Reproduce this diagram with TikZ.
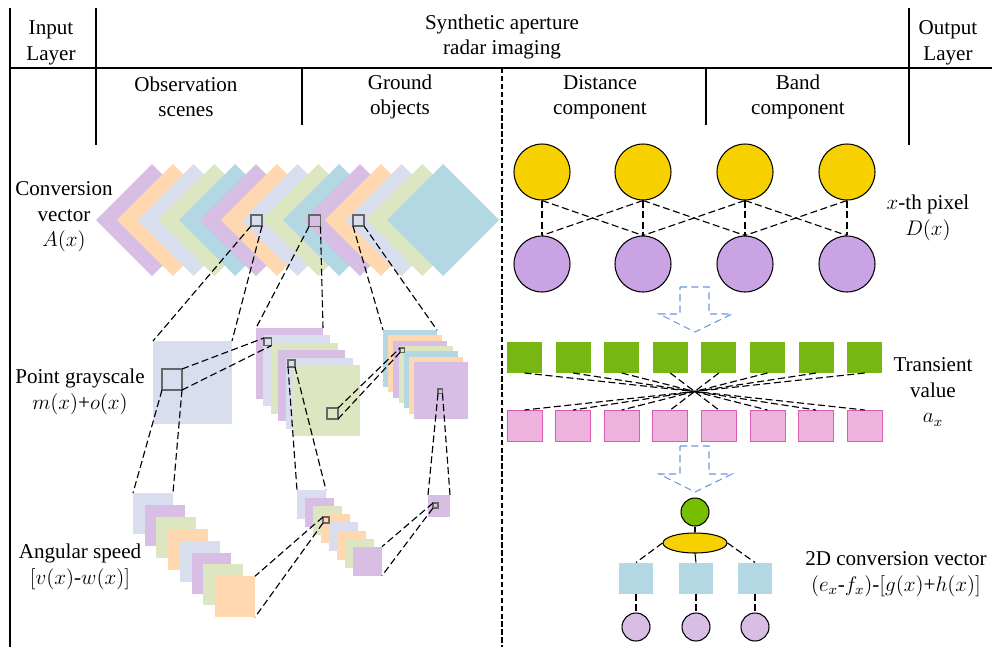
\documentclass[tikz,border=0pt]{standalone}
\usepackage{fontspec}
\setmainfont{Liberation Serif}
\usetikzlibrary{shapes.geometric}
\definecolor{cpur}{RGB}{216,190,228}
\definecolor{cora}{RGB}{255,216,176}
\definecolor{cgra}{RGB}{216,222,238}
\definecolor{cgrn}{RGB}{220,230,192}
\definecolor{cblu}{RGB}{180,215,228}
\definecolor{cyel}{RGB}{247,208,0}
\definecolor{cvio}{RGB}{201,163,227}
\definecolor{cgsq}{RGB}{120,182,20}
\definecolor{cpk}{RGB}{238,178,222}
\definecolor{cpkd}{RGB}{214,94,180}
\definecolor{cgc}{RGB}{120,190,0}
\definecolor{carr}{RGB}{110,150,220}
\tikzset{
  tile/.style={inner sep=0pt,outer sep=0pt,anchor=north west},
  lens/.style={draw=black!60,line width=0.6pt,inner sep=0pt,outer sep=0pt,anchor=north west},
  link/.style={dash pattern=on 4pt off 2pt,line width=0.65pt},
  border/.style={dash pattern=on 3pt off 1.5pt,line width=0.6pt},
  dot/.style={circle,draw,line width=0.6pt,inner sep=0pt,minimum size=1.12cm},
  cell/.style={inner sep=0pt,outer sep=0pt,minimum width=0.7cm,minimum height=0.62cm},
  hollow/.style={draw=carr,dash pattern=on 4pt off 2.5pt,line width=0.6pt},
  mtile/.style={tile,minimum width=1.34cm,minimum height=1.42cm},
  rtile/.style={tile,minimum width=1.08cm,minimum height=1.14cm},
  atile/.style={tile,minimum width=0.8cm,minimum height=0.82cm},
  btile/.style={tile,minimum size=0.58cm}
}
\begin{document}
\begin{tikzpicture}[x=0.02cm,y=-0.02cm,font=\fontsize{12}{14.5}\selectfont,line width=0.6pt]
\useasboundingbox (0,0) rectangle (992,647);

% frame
\draw (10,8) -- (10,647);
\draw (96,8) -- (96,145);
\draw (909,8) -- (909,145);
\draw (10,68) -- (992,68);
\draw (302,68) -- (302,125);
\draw (706,68) -- (706,125);
\draw[border] (502,68) -- (502,647);

\node[align=center] (inl) at (51,43) {Input\\Layer};
\node[align=center] (sar) at (502,37) {Synthetic aperture\\radar imaging};
\node[align=center] (outl) at (948,43) {Output\\Layer};
\node[align=center] (obs) at (186,97) {Observation\\scenes};
\node[align=center] (gro) at (400,97) {Ground\\objects};
\node[align=center] (dis) at (600,97) {Distance\\component};
\node[align=center] (ban) at (798,97) {Band\\component};

\node[align=center] (conv) at (64,217) {Conversion\\vector\\$A(x)$};
\node[align=center] (pgs) at (80,392) {Point grayscale\\$m(x)$+$o(x)$};
\node[align=center] (ang) at (80,567) {Angular speed\\$[v(x)$-$w(x)]$};
\node[align=center] (pix) at (928,218) {$x$-th pixel\\$D(x)$};
\node[align=center] (tra) at (933,392) {Transient\\value\\$a_x$};
\node[align=center] (vec) at (896,574) {2D conversion vector\\$(e_x$-$f_x)$-$[g(x)$+$h(x)]$};

% diamonds
\foreach \c [count=\i from 0] in {cpur,cora,cgra,cgrn,cblu,cpur,cora,cgra,cgrn,cblu,cpur,cora,cgra,cgrn,cblu}
  \fill[\c] (96+20.8*\i,220) -- ++(56,-56) -- ++(56,56) -- ++(-56,56) -- cycle;

% stacks
\node[tile,fill=cgra,minimum width=1.58cm,minimum height=1.66cm] (big) at (153,341) {};
\foreach \c [count=\k from 0] in {cpur,cgra,cgrn,cpur,cgra,cgrn}
  \node[mtile,fill=\c] (m\k) at (256+7.4*\k,328+7.4*\k) {};
\foreach \c [count=\k from 0] in {cblu,cora,cpur,cgrn,cblu,cora,cpur}
  \node[rtile,fill=\c] (r\k) at (383+5.2*\k,330+5.33*\k) {};
\foreach \c [count=\k from 0] in {cgra,cpur,cgrn,cora,cgra,cpur,cgrn,cora}
  \node[atile,fill=\c] (a\k) at (133+11.7*\k,493+11.9*\k) {};
\foreach \c [count=\k from 0] in {cgra,cpur,cgrn,cora,cgra,cora,cgrn,cpur}
  \node[btile,fill=\c] (b\k) at (297+8*\k,490+8.1*\k) {};
\node[tile,fill=cpur,minimum size=0.44cm] (c1) at (428,495) {};

% windows
\node[lens,minimum size=0.22cm] (d1) at (251,215) {};
\node[lens,minimum size=0.23cm] (d2) at (309,215) {};
\node[lens,minimum size=0.22cm] (d3) at (353,215) {};
\node[lens,minimum width=0.4cm,minimum height=0.42cm] (gi) at (162,369) {};
\node[lens,minimum size=0.15cm] (mi1) at (264,338) {};
\node[lens,minimum size=0.14cm] (mi5) at (288,360) {};
\node[lens,minimum size=0.22cm] (mi6) at (327,408) {};
\node[lens,minimum size=0.09cm] (ri3) at (400,348) {};
\node[lens,minimum size=0.09cm] (ri7) at (438,389) {};
\node[lens,minimum size=0.1cm] (ci) at (433,503) {};
\node[lens,minimum size=0.12cm] (bi3) at (323,517) {};

\draw[link] (d1.south west) -- (big.north west) (d1.south east) -- (big.north east);
\draw[link] (d2.south west) -- (m0.north west) (d2.south east) -- (m0.north east);
\draw[link] (d3.south west) -- (r0.north west) (d3.south east) -- (r0.north east);
\draw[link] (gi.north east) -- (mi1.north west) (gi.south east) -- (mi1.south east);
\draw[link] (gi.south west) -- (a0.north west) (gi.south east) -- (a0.north east);
\draw[link] (mi5.south west) -- (b0.north west) (mi5.south east) -- (b0.north east);
\draw[link] (mi6.north east) -- (ri3.north west) (mi6.south east) -- (ri3.south west);
\draw[link] (ri7.south west) -- (c1.north west) (ri7.south east) -- (c1.north east);
\draw[link] (ci.north west) -- (b7.north east) (ci.south west) -- (b7.south east);
\draw[link] (bi3.north west) -- (a7.north east) (bi3.south west) -- (a7.south east);

% pixel layer
\foreach \x [count=\i] in {542,643,745,847} {
  \node[dot,fill=cyel] (y\i) at (\x,172) {};
  \node[dot,fill=cvio] (p\i) at (\x,264) {};
  \draw[link] (y\i.south) -- (p\i.north);
}
\foreach \i/\j in {1/2,2/3,3/4}
  \draw[link] (y\i.south) -- (p\j.north) (y\j.south) -- (p\i.north);

\draw[hollow] (680,287) -- (709,287) -- (709,314) -- (732,314) -- (695,332) -- (659,314) -- (680,314) -- cycle;
\draw[hollow] (680,446) -- (709,446) -- (709,474) -- (732,474) -- (695,492) -- (659,474) -- (680,474) -- cycle;

% transient values
\foreach \i in {1,...,8} {
  \node[cell,fill=cgsq] (t\i) at ({524.5+48.6*(\i-1)},357.5) {};
  \node[cell,fill=cpk,draw=cpkd,line width=0.5pt] (s\i) at ({524.5+48.6*(\i-1)},425.5) {};
}
\foreach \i [evaluate=\i as \j using int(9-\i)] in {1,...,8}
  \draw[link] (t\i.south) -- (s\j.north);

% conversion tree
\node[dot,fill=cgc,minimum size=0.56cm] (top) at (695,512) {};
\node[ellipse,draw,fill=cyel,inner sep=0pt,minimum width=1.28cm,minimum height=0.4cm] (hub) at (695,543) {};
\foreach \x [count=\i] in {636,696,755} {
  \node[cell,fill=cblu] (q\i) at (\x,578) {};
  \node[dot,fill=cpur,minimum size=0.56cm] (leaf\i) at (\x,627) {};
  \draw[link] (q\i.south) -- (leaf\i.north);
}
\draw (top) -- (hub);
\draw[link] (hub.west) -- (q1.north);
\draw (hub.south) -- (q2.north);
\draw[link] (hub.east) -- (q3.north);
\end{tikzpicture}
\end{document}
